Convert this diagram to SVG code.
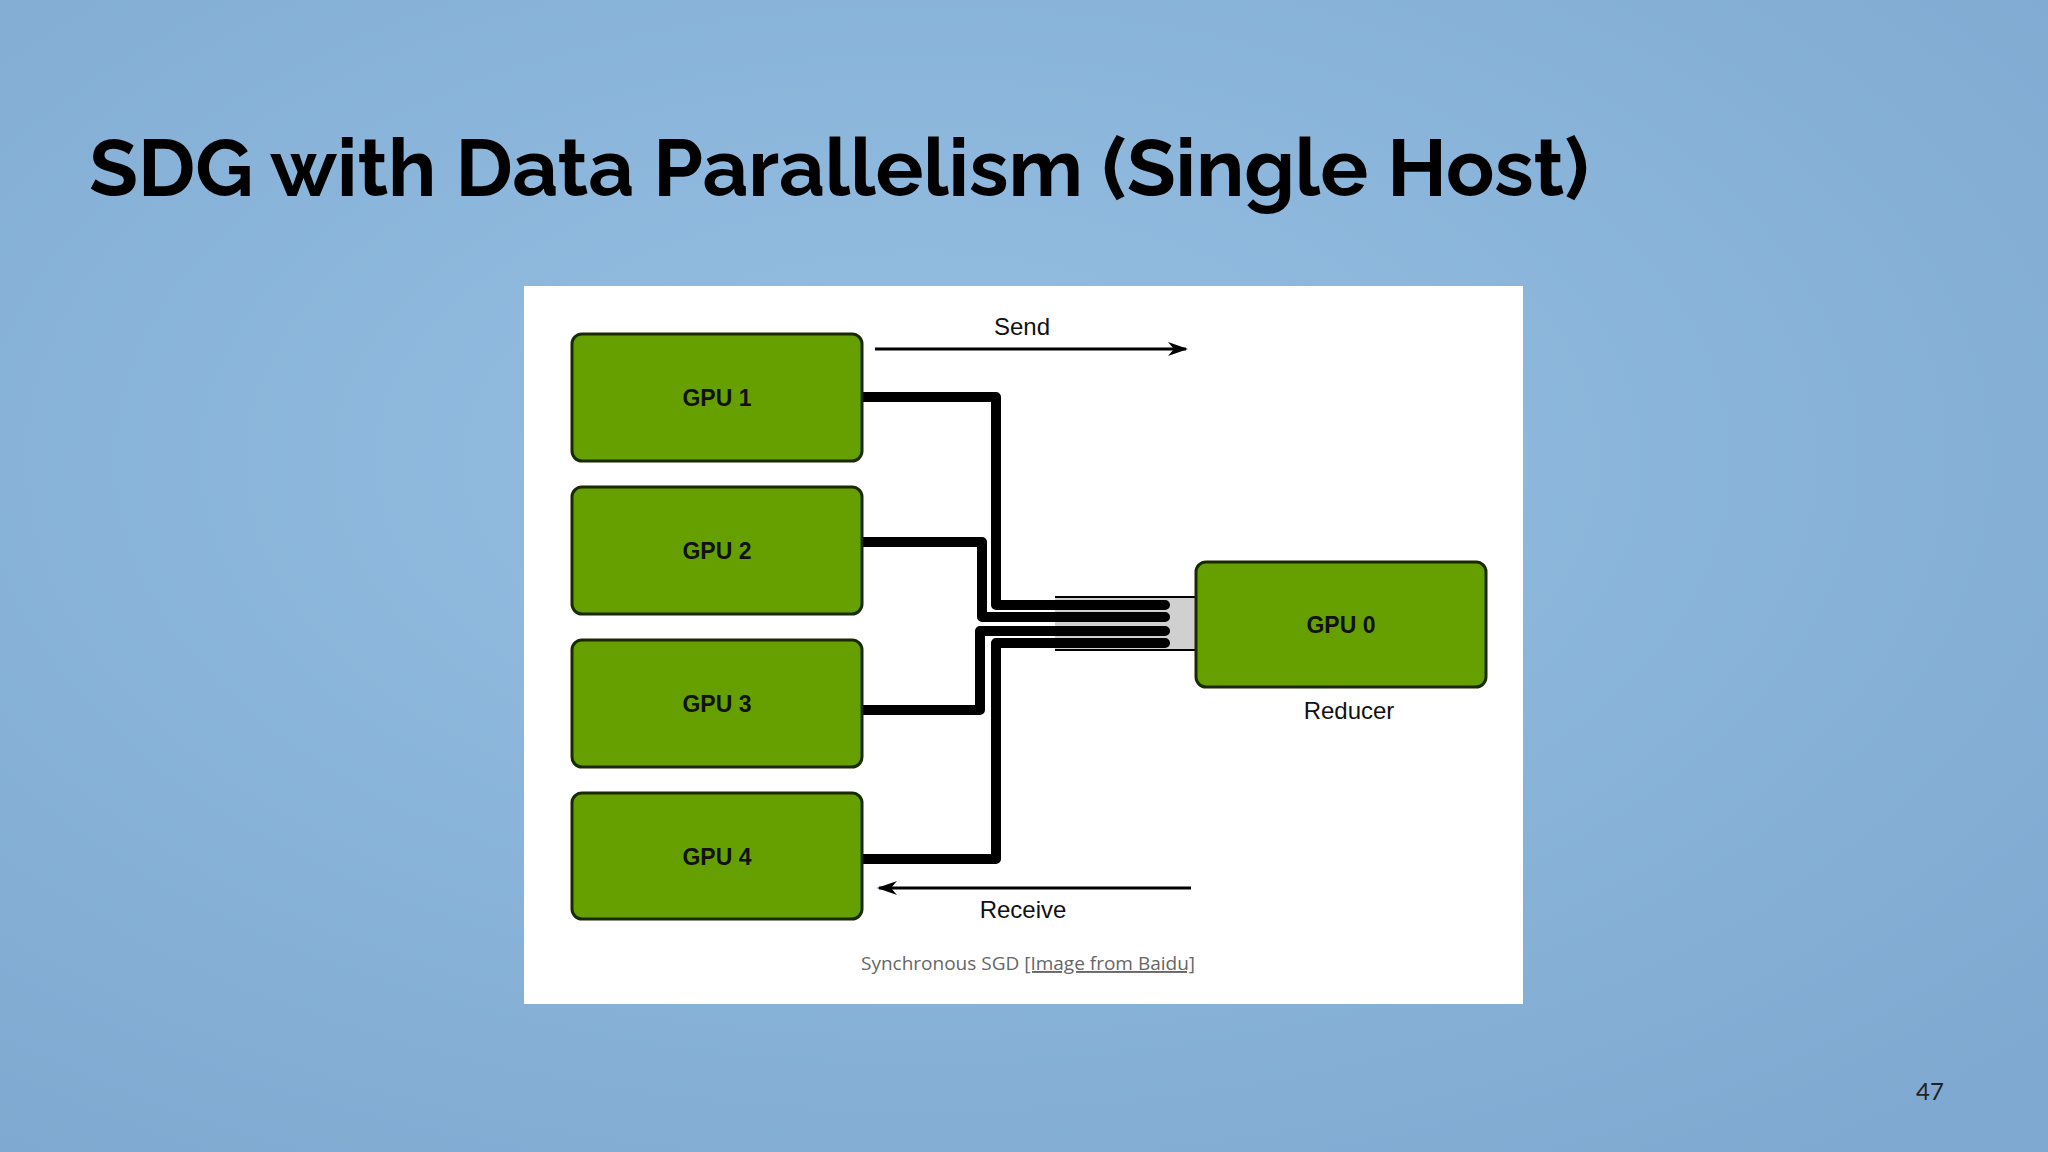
<svg xmlns="http://www.w3.org/2000/svg" width="2048" height="1152" viewBox="0 0 2048 1152">
<defs>
<radialGradient id="bg" cx="0.45" cy="0.4" r="0.75">
<stop offset="0" stop-color="#95c0e3"/><stop offset="1" stop-color="#7fa9d0"/>
</radialGradient>
<marker id="ah" viewBox="0 0 20 14" refX="18" refY="7" markerWidth="20" markerHeight="14" markerUnits="userSpaceOnUse" orient="auto">
<path d="M0,0 L20,7 L0,14 L6,7 Z" fill="#000"/>
</marker>
</defs>
<style>
.gpu{fill:#66a000;stroke:#1a2a00;stroke-width:3}
.lbl{font-family:"Liberation Sans",Arial,sans-serif;font-weight:bold;font-size:23px;fill:#111;text-anchor:middle}
.txt{font-family:"Liberation Sans",Arial,sans-serif;font-size:24px;fill:#111;text-anchor:middle}
.w{fill:none;stroke:#000;stroke-width:10;stroke-linejoin:round;stroke-linecap:round}
</style>
<rect width="2048" height="1152" fill="url(#bg)"/>
<text x="89" y="196" font-family="Raleway,Lato,'Open Sans',sans-serif" font-weight="bold" font-size="80" fill="#000" textLength="1500">SDG with Data Parallelism (Single Host)</text>
<rect x="524" y="286" width="999" height="718" fill="#fff"/>
<g id="connectors">
<rect x="1055" y="597" width="141" height="53" fill="#d0d0d0"/>
<line x1="1055" y1="597" x2="1196" y2="597" stroke="#000" stroke-width="2"/>
<line x1="1055" y1="650" x2="1196" y2="650" stroke="#000" stroke-width="2"/>
<path class="w" d="M862,397 H996 V605 H1165"/>
<path class="w" d="M862,542 H982 V617 H1165"/>
<path class="w" d="M862,710 H980 V631 H1165"/>
<path class="w" d="M862,859 H996 V643 H1165"/>
<line x1="875" y1="349" x2="1186" y2="349" stroke="#000" stroke-width="3" marker-end="url(#ah)"/>
<line x1="1191" y1="888" x2="879" y2="888" stroke="#000" stroke-width="3" marker-end="url(#ah)"/>
</g>
<g id="gpu1"><rect class="gpu" x="572" y="334" width="290" height="127" rx="10"/><text class="lbl" x="717" y="406">GPU 1</text></g>
<g id="gpu2"><rect class="gpu" x="572" y="487" width="290" height="127" rx="10"/><text class="lbl" x="717" y="559">GPU 2</text></g>
<g id="gpu3"><rect class="gpu" x="572" y="640" width="290" height="127" rx="10"/><text class="lbl" x="717" y="712">GPU 3</text></g>
<g id="gpu4"><rect class="gpu" x="572" y="793" width="290" height="126" rx="10"/><text class="lbl" x="717" y="865">GPU 4</text></g>
<g id="gpu0"><rect class="gpu" x="1196" y="562" width="290" height="125" rx="10"/><text class="lbl" x="1341" y="633">GPU 0</text><text class="txt" x="1349" y="719">Reducer</text></g>
<text class="txt" x="1022" y="335">Send</text>
<text class="txt" x="1023" y="918">Receive</text>
<text x="1028" y="970" font-family="'Open Sans',sans-serif" font-size="19" fill="#666" text-anchor="middle">Synchronous SGD <tspan text-decoration="underline">[Image from Baidu]</tspan></text>
<text x="1930" y="1100" font-family="Lato,sans-serif" font-size="24" fill="#222" text-anchor="middle">47</text>
</svg>
